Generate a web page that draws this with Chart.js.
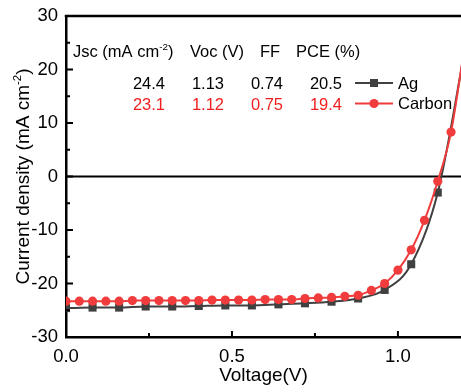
<!DOCTYPE html>
<html lang="en">
<head>
<meta charset="UTF-8">
<title>J-V curves</title>
<script src="https://cdn.jsdelivr.net/npm/chart.js"></script>
<style>
  html, body { margin: 0; padding: 0; background: #fff; }
  canvas { display: block; }
</style>
</head>
<body>
<canvas id="jv" width="461" height="392"></canvas>
<script>
// J-V data
const agVoltage = [0, 0.08, 0.16, 0.24, 0.32, 0.40, 0.48, 0.56, 0.64, 0.72, 0.80, 0.88, 0.96, 1.04, 1.12, 1.20];
const agCurrent = [-24.6, -24.5, -24.5, -24.3, -24.3, -24.2, -24.1, -24.1, -23.9, -23.7, -23.4, -22.8, -21.2, -16.4, -3.0, 23.0];

const carbonVoltage = [0, 0.04, 0.08, 0.12, 0.16, 0.20, 0.24, 0.28, 0.32, 0.36, 0.40, 0.44, 0.48, 0.52, 0.56, 0.60,
                       0.64, 0.68, 0.72, 0.76, 0.80, 0.84, 0.88, 0.92, 0.96, 1.00, 1.04, 1.08, 1.12, 1.16, 1.20];
const carbonCurrent = [-23.3, -23.3, -23.3, -23.3, -23.3, -23.2, -23.2, -23.2, -23.2, -23.2, -23.2, -23.1, -23.1, -23.1, -23.1, -23.0,
                       -23.0, -23.0, -22.8, -22.7, -22.6, -22.4, -22.2, -21.3, -20.0, -17.5, -13.7, -8.2, -0.9, 8.3, 24.0];

const xTicks = [0, 0.5, 1.0];
const xMinor = [0.25, 0.75];
const yTicks = [-30, -20, -10, 0, 10, 20, 30];
const yMinor = [-25, -15, -5, 5, 15, 25];

// parameter table
const tableHeader = ['Jsc', 'Voc (V)', 'FF', 'PCE (%)'];
const agParams = ['24.4', '1.13', '0.74', '20.5'];
const carbonParams = ['23.1', '1.12', '0.75', '19.4'];
const seriesNames = ['Ag', 'Carbon'];

const FONT = '"Liberation Sans", Arial, sans-serif';
const GRAY = '#404040';
const RED = '#f03c3c';
const RED_TEXT = '#f01e1e';

function pts(xs, ys) {
    return xs.map((v, i) => ({ x: v, y: ys[i] }));
}

// draws text with a superscript part, returns end x
function richText(ctx, parts, x, y, size) {
    let cx = x;
    parts.forEach(p => {
        if (p.sup) {
            ctx.font = (size * 0.6) + 'px ' + FONT;
            ctx.fillText(p.t, cx, y - size * 0.42);
        } else {
            ctx.font = size + 'px ' + FONT;
            ctx.fillText(p.t, cx, y);
        }
        cx += ctx.measureText(p.t).width;
    });
    return cx;
}

function richWidth(ctx, parts, size) {
    let w = 0;
    parts.forEach(p => {
        ctx.font = (p.sup ? size * 0.6 : size) + 'px ' + FONT;
        w += ctx.measureText(p.t).width;
    });
    return w;
}

const decor = {
    id: 'decor',
    beforeDatasetsDraw(chart) {
        const { ctx, chartArea: a, scales: { y } } = chart;
        ctx.save();
        ctx.strokeStyle = '#000';
        ctx.lineWidth = 2;
        const y0 = y.getPixelForValue(0);
        ctx.beginPath();
        ctx.moveTo(a.left, y0);
        ctx.lineTo(a.right, y0);
        ctx.stroke();
        ctx.restore();
    },
    afterDraw(chart) {
        const { ctx, chartArea: a, scales: { x, y } } = chart;
        ctx.save();
        ctx.strokeStyle = '#000';

        // top frame
        ctx.lineWidth = 2.5;
        ctx.beginPath();
        ctx.moveTo(a.left - 1.25, a.top);
        ctx.lineTo(a.right, a.top);
        ctx.stroke();

        // inward ticks
        ctx.lineWidth = 2;
        const tick = (px, py, dx, dy) => {
            ctx.beginPath();
            ctx.moveTo(px, py);
            ctx.lineTo(px + dx, py + dy);
            ctx.stroke();
        };
        xTicks.forEach(v => tick(x.getPixelForValue(v), a.bottom, 0, -6));
        xMinor.forEach(v => tick(x.getPixelForValue(v), a.bottom, 0, -4));
        yTicks.forEach(v => tick(a.left, y.getPixelForValue(v), 7, 0));
        yMinor.forEach(v => tick(a.left, y.getPixelForValue(v), 4, 0));

        // axis titles
        ctx.fillStyle = '#000';
        ctx.textBaseline = 'alphabetic';
        ctx.textAlign = 'center';
        ctx.font = '19px ' + FONT;
        ctx.fillText('Voltage(V)', (a.left + a.right) / 2, 381);

        const yTitle = [{ t: 'Current density (mA cm' }, { t: '-2', sup: true }, { t: ')' }];
        ctx.save();
        ctx.translate(29, (a.top + a.bottom) / 2);
        ctx.rotate(-Math.PI / 2);
        ctx.textAlign = 'left';
        richText(ctx, yTitle, -richWidth(ctx, yTitle, 19) / 2, 0, 19);
        ctx.restore();

        // table
        ctx.textAlign = 'left';
        const size = 16.5;
        richText(ctx, [{ t: 'Jsc (mA cm' }, { t: '-2', sup: true }, { t: ')' }], 73, 57, size);
        ctx.font = size + 'px ' + FONT;
        const headX = [0, 190, 260, 296];
        tableHeader.forEach((t, i) => { if (i > 0) ctx.fillText(t, headX[i], 57); });

        const colRight = [165, 224, 283, 342];
        ctx.textAlign = 'right';
        agParams.forEach((t, i) => ctx.fillText(t, colRight[i], 89));
        ctx.fillStyle = RED_TEXT;
        carbonParams.forEach((t, i) => ctx.fillText(t, colRight[i], 109.5));

        // legend
        const rows = [
            { name: seriesNames[0], color: GRAY, style: 'rect', y: 83 },
            { name: seriesNames[1], color: RED, style: 'circle', y: 103.5 }
        ];
        rows.forEach(r => {
            ctx.strokeStyle = r.color;
            ctx.fillStyle = r.color;
            ctx.lineWidth = 2;
            ctx.beginPath();
            ctx.moveTo(355, r.y);
            ctx.lineTo(393, r.y);
            ctx.stroke();
            if (r.style === 'rect') {
                ctx.fillRect(370, r.y - 4, 8, 8);
            } else {
                ctx.beginPath();
                ctx.arc(374, r.y, 4.6, 0, Math.PI * 2);
                ctx.fill();
            }
            ctx.fillStyle = '#000';
            ctx.textAlign = 'left';
            ctx.textBaseline = 'middle';
            ctx.font = size + 'px ' + FONT;
            ctx.fillText(r.name, 398, r.y + 1);
        });
        ctx.restore();
    }
};

const X_MAX = 1.19;
const hideOutside = (r) => (c) => (c.raw && c.raw.x > X_MAX ? 0 : r);

new Chart(document.getElementById('jv'), {
    type: 'line',
    data: {
        datasets: [
            {
                label: seriesNames[0],
                data: pts(agVoltage, agCurrent),
                borderColor: GRAY,
                backgroundColor: GRAY,
                borderWidth: 2,
                pointStyle: 'rect',
                pointRadius: hideOutside(5.7),
                pointBorderWidth: 0,
                cubicInterpolationMode: 'monotone',
                order: 2
            },
            {
                label: seriesNames[1],
                data: pts(carbonVoltage, carbonCurrent),
                borderColor: RED,
                backgroundColor: RED,
                borderWidth: 2,
                pointStyle: 'circle',
                pointRadius: hideOutside(4.6),
                pointBorderWidth: 0,
                cubicInterpolationMode: 'monotone',
                order: 1
            }
        ]
    },
    options: {
        responsive: false,
        animation: false,
        layout: { autoPadding: false, padding: { top: 16, right: 0, left: 0, bottom: 0 } },
        plugins: { legend: { display: false }, tooltip: { enabled: false } },
        scales: {
            x: {
                type: 'linear',
                min: 0,
                max: X_MAX,
                afterBuildTicks: s => { s.ticks = xTicks.map(v => ({ value: v })); },
                afterFit: s => { s.height = 55; s.paddingLeft = 0; s.paddingRight = 0; },
                grid: { display: false, drawTicks: false },
                border: { display: true, color: '#000', width: 2.5 },
                ticks: {
                    color: '#000',
                    font: { family: FONT, size: 18.5 },
                    padding: 9,
                    maxRotation: 0,
                    callback: v => Number(v).toFixed(1)
                }
            },
            y: {
                type: 'linear',
                min: -30,
                max: 30,
                afterBuildTicks: s => { s.ticks = yTicks.map(v => ({ value: v })); },
                afterFit: s => { s.width = 66; s.paddingTop = 0; s.paddingBottom = 0; },
                grid: { display: false, drawTicks: false },
                border: { display: true, color: '#000', width: 2.5 },
                ticks: {
                    color: '#000',
                    font: { family: FONT, size: 18.5 },
                    padding: 8,
                    callback: v => String(v)
                }
            }
        }
    },
    plugins: [decor]
});
</script>
</body>
</html>
